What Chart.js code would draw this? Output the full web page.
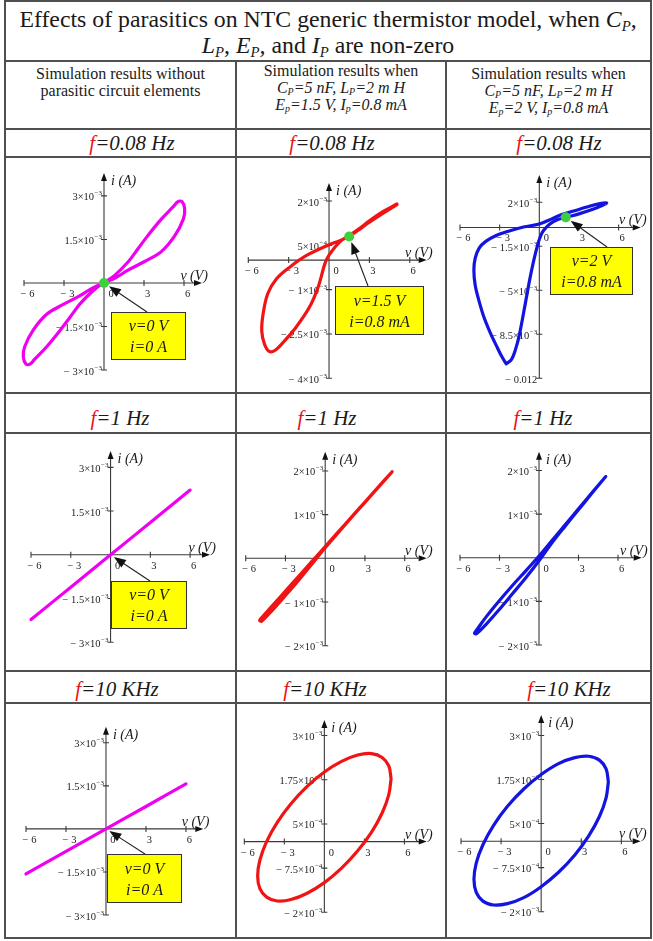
<!DOCTYPE html>
<html>
<head>
<meta charset="utf-8">
<title>NTC thermistor parasitics</title>
<script src="https://cdn.jsdelivr.net/npm/chart.js@4.4.1/dist/chart.umd.min.js"></script>
<style>
  html, body { margin: 0; padding: 0; background: #fff; }
  #page { position: relative; width: 653px; height: 941px; overflow: hidden;
          font-family: "Liberation Serif", "Times New Roman", serif; color: #1a1a1a; }
  .line { position: absolute; background: #505050; }
  .txt { position: absolute; text-align: center; white-space: nowrap; }
  .title { font-size: 23.8px; line-height: 26px; }
  .head { font-size: 16px; line-height: 16.8px; }
  sub { font-size: 0.62em; vertical-align: -0.25em; line-height: 0; }
  .freq { font-size: 21px; line-height: 21px; font-style: italic; width: 140px; }
  .freq span { color: #e8141c; }
  canvas { position: absolute; }
</style>
</head>
<body>
<div id="page">
  <div class="txt title" style="left:5px; top:6px; width:646px;">
    Effects of parasitics on NTC generic thermistor model, when <i>C<sub>P</sub></i>,<br>
    <i>L<sub>P</sub></i>, <i>E<sub>P</sub>,</i> and <i>I<sub>P</sub></i> are non-zero
  </div>
  <div class="txt head" style="left:5px; top:66px; width:231px;">
    Simulation results without<br>parasitic circuit elements
  </div>
  <div class="txt head" style="left:236px; top:63px; width:210px;">
    Simulation results when<br><i>C<sub>P</sub>=5 nF, L<sub>P</sub>=2 m H</i><br><i>E<sub>p</sub>=1.5 V, I<sub>p</sub>=0.8 mA</i>
  </div>
  <div class="txt head" style="left:446px; top:66px; width:205px;">
    Simulation results when<br><i>C<sub>P</sub>=5 nF, L<sub>P</sub>=2 m H</i><br><i>E<sub>p</sub>=2 V, I<sub>p</sub>=0.8 mA</i>
  </div>

  <div class="txt freq" style="left:62px;  top:133px;"><span>f</span>=0.08 Hz</div>
  <div class="txt freq" style="left:262px; top:133px;"><span>f</span>=0.08 Hz</div>
  <div class="txt freq" style="left:489px; top:133px;"><span>f</span>=0.08 Hz</div>
  <div class="txt freq" style="left:50px;  top:408px;"><span>f</span>=1 Hz</div>
  <div class="txt freq" style="left:257px; top:408px;"><span>f</span>=1 Hz</div>
  <div class="txt freq" style="left:473px; top:408px;"><span>f</span>=1 Hz</div>
  <div class="txt freq" style="left:47px;  top:679px;"><span>f</span>=10 KHz</div>
  <div class="txt freq" style="left:255px; top:679px;"><span>f</span>=10 KHz</div>
  <div class="txt freq" style="left:499px; top:679px;"><span>f</span>=10 KHz</div>
</div>

<script>
// ---- data: voltage in V, current in mA ----

// f = 0.08 Hz
const vSlowPlain = [0, 0.8, 1.8, 2.55, 3.3, 4.3, 5.18, 5.55, 5.85, 6.05, 5.95, 5.3, 4.3, 3.05, 1.8, 0.8, 0,
                    -0.8, -1.8, -2.55, -3.3, -4.3, -5.18, -5.55, -5.85, -6.05, -5.95, -5.3, -4.3, -3.05, -1.8, -0.8, 0];
const iSlowPlain = [0, 0.26, 0.72, 1.18, 1.64, 2.2, 2.62, 2.8, 2.8, 2.56, 2.2, 1.62, 1.08, 0.74, 0.44, 0.16, 0,
                    -0.26, -0.72, -1.18, -1.64, -2.2, -2.62, -2.8, -2.8, -2.56, -2.2, -1.62, -1.08, -0.74, -0.44, -0.16, 0];

const vSlowEp15 = [5.05, 4.0, 3.0, 2.2, 1.5, 0.8, -0.2, -1.7, -2.9, -3.9, -4.55, -4.9, -5.0, -4.8, -4.45, -4.0,
                   -3.4, -2.45, -1.45, -0.8, -0.3, 0, 0.8, 1.5, 2.2, 3.0, 4.0, 5.05];
const iSlowEp15 = [1.88, 1.58, 1.28, 1.02, 0.8, 0.66, 0.48, 0.15, -0.23, -0.63, -1.13, -1.82, -2.4, -2.84, -3.09, -3.05,
                   -2.78, -2.27, -1.59, -0.9, -0.11, 0.17, 0.62, 0.83, 1.05, 1.33, 1.64, 1.9];

const vSlowEp2 = [-2.5, -2.1, -1.8, -1.5, -1.05, -0.68, -0.23, 0.2, 0.8, 1.4, 2.0, 3.0, 4.0, 4.7, 5.1, 4.6, 3.6, 2.6,
                  1.6, 0.9, 0, -1.2, -2.4, -3.3, -4.05, -4.55, -4.85, -4.95, -4.85, -4.6, -4.2, -3.7, -3.25, -2.85, -2.5];
const iSlowEp2 = [-10.85, -10.5, -9.7, -8.5, -6.0, -3.9, -1.8, -0.45, 0.27, 0.62, 0.8, 1.08, 1.42, 1.72, 1.95, 1.9, 1.62, 1.3,
                  0.98, 0.66, 0.27, 0.03, -0.32, -0.66, -1.11, -1.64, -2.44, -3.4, -4.6, -5.7, -7.1, -8.4, -9.4, -10.25, -10.85];

// f = 1 Hz
const vMidPlain = [-6, -3, 0, 3, 6];
const iMidPlain = [-2.22, -1.11, 0, 1.11, 2.22];

const vMidEp15 = [5.05, 4, 3, 2, 1, 0, -1, -2, -3, -4, -4.7, -4.95, -4.8, -4, -3, -2, -1, 0, 1, 2, 3, 4, 5.05];
const iMidEp15 = [1.98, 1.63, 1.29, 0.95, 0.61, 0.27, -0.07, -0.41, -0.75, -1.09, -1.33, -1.42, -1.44, -1.19, -0.85,
                  -0.5, -0.13, 0.24, 0.59, 0.94, 1.28, 1.62, 1.98];

const vMidEp2 = [5.07, 4, 3, 2, 1, 0, -1, -2, -3, -4, -4.6, -4.9, -4.75, -4, -3, -2, -1, 0, 1, 2, 3, 4, 5.07];
const iMidEp2 = [1.86, 1.48, 1.12, 0.76, 0.4, 0.04, -0.3, -0.63, -0.98, -1.35, -1.6, -1.73, -1.74, -1.52, -1.18,
                 -0.82, -0.46, -0.07, 0.35, 0.73, 1.1, 1.47, 1.86];

// f = 10 KHz
const vFastPlain = [-6, -3, 0, 3, 6];
const iFastPlain = [-1.57, -0.78, 0, 0.78, 1.57];

const vFastEp15 = [5, 4.83, 4.33, 3.54, 2.5, 1.29, 0, -1.29, -2.5, -3.54, -4.33, -4.83, -5, -4.83, -4.33, -3.54,
                   -2.5, -1.29, 0, 1.29, 2.5, 3.54, 4.33, 4.83, 5];
const iFastEp15 = [1.78, 1.33, 0.81, 0.27, -0.26, -0.75, -1.16, -1.46, -1.64, -1.68, -1.57, -1.33, -0.97, -0.52, 0.0, 0.54,
                   1.07, 1.56, 1.97, 2.27, 2.45, 2.49, 2.38, 2.14, 1.78];

const vFastEp2 = [5.03, 4.86, 4.36, 3.56, 2.52, 1.3, 0, -1.3, -2.52, -3.56, -4.36, -4.86, -5.03, -4.86, -4.36, -3.56,
                  -2.52, -1.3, 0, 1.3, 2.52, 3.56, 4.36, 4.86, 5.03];
const iFastEp2 = [1.68, 1.23, 0.7, 0.15, -0.39, -0.88, -1.29, -1.6, -1.77, -1.81, -1.7, -1.45, -1.08, -0.62, -0.1, 0.45,
                  0.99, 1.48, 1.89, 2.2, 2.37, 2.41, 2.3, 2.05, 1.68];

// operating points [V, A]
const originPt = [0, 0];
const opEp15 = [1.5, 0.8e-3];
const opEp2 = [2, 0.8e-3];

// ---- ticks ----
const xTicks = [-6, -3, 0, 3, 6];
const xTickLabels = ['\u2212 6', '\u2212 3', '0', '3', '6'];

const yTicksPlain = [3e-3, 1.5e-3, -1.5e-3, -3e-3];
const yLabelsPlain = ['3\u00d710^\u22123', '1.5\u00d710^\u22123', '\u2212 1.5\u00d710^\u22123', '\u2212 3\u00d710^\u22123'];
const yTicksSlowEp15 = [2e-3, 5e-4, -1e-3, -2.5e-3, -4e-3];
const yLabelsSlowEp15 = ['2\u00d710^\u22123', '5\u00d710^\u22124', '\u2212 1\u00d710^\u22123', '\u2212 2.5\u00d710^\u22123', '\u2212 4\u00d710^\u22123'];
const yTicksSlowEp2 = [2e-3, -1.5e-3, -5e-3, -8.5e-3, -0.012];
const yLabelsSlowEp2 = ['2\u00d710^\u22123', '\u2212 1.5\u00d710^\u22123', '\u2212 5\u00d710^\u22123', '\u2212 8.5\u00d710^\u22123', '\u2212 0.012'];
const yTicksMid = [2e-3, 1e-3, -1e-3, -2e-3];
const yLabelsMid = ['2\u00d710^\u22123', '1\u00d710^\u22123', '\u2212 1\u00d710^\u22123', '\u2212 2\u00d710^\u22123'];
const yTicksFast = [3e-3, 1.75e-3, 5e-4, -7.5e-4, -2e-3];
const yLabelsFast = ['3\u00d710^\u22123', '1.75\u00d710^\u22123', '5\u00d710^\u22124', '\u2212 7.5\u00d710^\u22124', '\u2212 2\u00d710^\u22123'];

// ---- styles ----
const MAGENTA = '#f000f0';
const RED = '#f01414';
const BLUE = '#1414e0';
const DOT_GREEN = '#3ecf3e';
const AXIS_COLOR = '#3a3a3a';
const SERIF = '"Liberation Serif", "Times New Roman", serif';

// table rules: [x, y, w, h]
const rules = [
  [5, 0, 646, 2], [5, 60, 646, 2], [5, 128, 646, 2], [5, 156, 646, 2], [5, 392, 646, 2],
  [5, 432, 646, 2], [5, 670, 646, 2], [5, 702, 646, 2], [5, 937, 646, 2],
  [4, 0, 2, 939], [650, 0, 2, 939], [235, 60, 2, 879], [445, 60, 2, 879]
];

// cell = canvas rect on the page, area = plot box on the page [left, top, right, bottom]
const panels = [
  { cell: [6, 158, 229, 234], area: [24, 173, 202, 370], xMax: 7.35, yMin: -3e-3, yMax: 3.79e-3,
    v: vSlowPlain, i: iSlowPlain, color: MAGENTA, yTicks: yTicksPlain, yLabels: yLabelsPlain, dot: originPt,
    note: { box: [111, 312, 75, 48], from: [147, 312], at: originPt, gap: 6 } },
  { cell: [237, 158, 208, 234], area: [248.3, 183, 426.7, 378.3], xMax: 7.26, yMin: -4e-3, yMax: 2.61e-3,
    v: vSlowEp15, i: iSlowEp15, color: RED, yTicks: yTicksSlowEp15, yLabels: yLabelsSlowEp15, dot: opEp15,
    note: { box: [335, 286, 89, 49], from: [368, 286], at: opEp15, gap: 6 } },
  { cell: [447, 158, 203, 234], area: [460, 175, 640.7, 378.3], xMax: 7.67, yMin: -12e-3, yMax: 4.17e-3,
    v: vSlowEp2, i: iSlowEp2, color: BLUE, yTicks: yTicksSlowEp2, yLabels: yLabelsSlowEp2, dot: opEp2,
    note: { box: [550, 247, 83, 48], from: [607, 247], at: opEp2, gap: 6 } },
  { cell: [6, 434, 229, 236], area: [31, 451, 210, 642.3], xMax: 7.5, yMin: -3e-3, yMax: 3.56e-3,
    v: vMidPlain, i: iMidPlain, color: MAGENTA, yTicks: yTicksPlain, yLabels: yLabelsPlain, dot: null,
    note: { box: [111, 581, 76, 48], from: [150, 581], at: originPt, gap: 4 } },
  { cell: [237, 434, 208, 236], area: [245.7, 451.7, 426.7, 645.7], xMax: 7.66, yMin: -2e-3, yMax: 2.44e-3,
    v: vMidEp15, i: iMidEp15, color: RED, yTicks: yTicksMid, yLabels: yLabelsMid, dot: null, note: null },
  { cell: [447, 434, 203, 236], area: [460, 451.7, 641.7, 645], xMax: 7.8, yMin: -2e-3, yMax: 2.43e-3,
    v: vMidEp2, i: iMidEp2, color: BLUE, yTicks: yTicksMid, yLabels: yLabelsMid, dot: null, note: null },
  { cell: [6, 704, 229, 233], area: [26, 726.7, 203.3, 915], xMax: 7.3, yMin: -3e-3, yMax: 3.56e-3,
    v: vFastPlain, i: iFastPlain, color: MAGENTA, yTicks: yTicksPlain, yLabels: yLabelsPlain, dot: null,
    note: { box: [107, 854, 75, 49], from: [145, 854], at: originPt, gap: 4 } },
  { cell: [237, 704, 208, 233], area: [244.3, 720, 426.7, 912.3], xMax: 7.67, yMin: -2e-3, yMax: 3.44e-3,
    v: vFastEp15, i: iFastEp15, color: RED, yTicks: yTicksFast, yLabels: yLabelsFast, dot: null, note: null },
  { cell: [447, 704, 203, 233], area: [461, 715, 640.7, 911.7], xMax: 7.45, yMin: -2e-3, yMax: 3.58e-3,
    v: vFastEp2, i: iFastEp2, color: BLUE, yTicks: yTicksFast, yLabels: yLabelsFast, dot: null, note: null }
];

const page = document.getElementById('page');

rules.forEach(([x, y, w, h]) => {
  const d = document.createElement('div');
  d.className = 'line';
  d.style.cssText = `left:${x}px;top:${y}px;width:${w}px;height:${h}px;`;
  page.appendChild(d);
});

function fillArrow(ctx, x, y, ang, len, half) {
  ctx.save();
  ctx.translate(x, y);
  ctx.rotate(ang);
  ctx.beginPath();
  ctx.moveTo(0, 0);
  ctx.lineTo(-len, -half);
  ctx.lineTo(-len, half);
  ctx.closePath();
  ctx.fill();
  ctx.restore();
}

// "1.5×10^−3" -> base text plus raised exponent, right aligned
function drawPowerLabel(ctx, label, right, yTick) {
  const [base, sup] = label.split('^');
  ctx.font = '10.5px ' + SERIF;
  const wb = ctx.measureText(base).width;
  ctx.font = '7px ' + SERIF;
  const ws = sup ? ctx.measureText(sup).width + 0.5 : 0;
  const x = right - wb - ws;
  ctx.textAlign = 'left';
  ctx.textBaseline = 'alphabetic';
  ctx.font = '10.5px ' + SERIF;
  ctx.fillText(base, x, yTick + 4.5);
  if (sup) {
    ctx.font = '7px ' + SERIF;
    ctx.fillText(sup, x + wb + 0.5, yTick - 0.5);
  }
}

function noteLines(pt) {
  const vTxt = 'v=' + pt[0] + ' V';
  const iTxt = pt[1] === 0 ? 'i=0 A' : 'i=' + (+(pt[1] * 1e3).toFixed(3)) + ' mA';
  return [vTxt, iTxt];
}

function makeAxesPlugin(p) {
  return {
    id: 'crossAxes',
    beforeDatasetsDraw(chart) {
      const ctx = chart.ctx;
      const xs = chart.scales.x, ys = chart.scales.y;
      const x0 = xs.getPixelForValue(0), y0 = ys.getPixelForValue(0);
      const left = xs.getPixelForValue(xs.min), right = xs.getPixelForValue(xs.max);
      const top = ys.getPixelForValue(ys.max), bottom = ys.getPixelForValue(ys.min);

      ctx.save();
      ctx.strokeStyle = AXIS_COLOR;
      ctx.fillStyle = AXIS_COLOR;
      ctx.lineWidth = 1.1;
      ctx.beginPath();
      ctx.moveTo(left, y0); ctx.lineTo(right - 4, y0);
      ctx.moveTo(x0, bottom); ctx.lineTo(x0, top + 4);
      xTicks.forEach(v => {
        if (v === 0) return;
        const px = xs.getPixelForValue(v);
        ctx.moveTo(px, y0 - 3); ctx.lineTo(px, y0 + 3);
      });
      p.yTicks.forEach(val => {
        const py = ys.getPixelForValue(val);
        ctx.moveTo(x0 - 3, py); ctx.lineTo(x0 + 3, py);
      });
      ctx.stroke();
      ctx.fillStyle = '#111';
      fillArrow(ctx, right, y0, 0, 8, 3);
      fillArrow(ctx, x0, top, -Math.PI / 2, 8, 3);

      // tick labels
      ctx.fillStyle = '#222';
      ctx.font = '10.5px ' + SERIF;
      ctx.textAlign = 'center';
      ctx.textBaseline = 'alphabetic';
      xTicks.forEach((v, k) => {
        const px = xs.getPixelForValue(v) + (v === 0 ? 7 : 3.5);
        ctx.fillText(xTickLabels[k], px, y0 + 14);
      });
      p.yTicks.forEach((val, k) => drawPowerLabel(ctx, p.yLabels[k], x0 - 2, ys.getPixelForValue(val)));

      // axis names
      ctx.fillStyle = '#1a1a1a';
      ctx.font = 'italic 14px ' + SERIF;
      ctx.textAlign = 'left';
      ctx.fillText('i (A)', x0 + 7, top + 12);
      ctx.textAlign = 'right';
      ctx.fillText('v (V)', right + 6, y0 - 3);
      ctx.restore();
    },
    afterDatasetsDraw(chart) {
      const n = p.note;
      if (!n) return;
      const ctx = chart.ctx;
      const ox = p.cell[0], oy = p.cell[1];
      const tx = chart.scales.x.getPixelForValue(n.at[0]);
      const ty = chart.scales.y.getPixelForValue(n.at[1]);
      const sx = n.from[0] - ox, sy = n.from[1] - oy;
      const dx = tx - sx, dy = ty - sy, d = Math.hypot(dx, dy);
      const ex = tx - dx / d * n.gap, ey = ty - dy / d * n.gap;

      ctx.save();
      ctx.strokeStyle = '#222';
      ctx.lineWidth = 1.1;
      ctx.beginPath();
      ctx.moveTo(sx, sy);
      ctx.lineTo(ex - dx / d * 8, ey - dy / d * 8);
      ctx.stroke();
      ctx.fillStyle = '#111';
      fillArrow(ctx, ex, ey, Math.atan2(dy, dx), 12, 4.5);

      const [bx, by, bw, bh] = n.box;
      ctx.fillStyle = '#ffff00';
      ctx.fillRect(bx - ox, by - oy, bw, bh);
      ctx.strokeStyle = '#333';
      ctx.lineWidth = 1;
      ctx.strokeRect(bx - ox + 0.5, by - oy + 0.5, bw - 1, bh - 1);

      const lines = noteLines(n.at);
      ctx.fillStyle = '#1a1a1a';
      ctx.font = 'italic 16px ' + SERIF;
      ctx.textAlign = 'center';
      ctx.textBaseline = 'alphabetic';
      ctx.fillText(lines[0], bx - ox + bw / 2, by - oy + bh * 0.4);
      ctx.fillText(lines[1], bx - ox + bw / 2, by - oy + bh * 0.83);
      ctx.restore();
    }
  };
}

panels.forEach(p => {
  const [cx, cy, cw, ch] = p.cell;
  const [al, at, ar, ab] = p.area;
  const cv = document.createElement('canvas');
  cv.width = cw;
  cv.height = ch;
  cv.style.left = cx + 'px';
  cv.style.top = cy + 'px';
  page.appendChild(cv);

  const curve = p.v.map((v, k) => ({ x: v, y: p.i[k] / 1000 }));
  const dots = p.dot ? [{ x: p.dot[0], y: p.dot[1] }] : [];

  new Chart(cv, {
    type: 'scatter',
    data: {
      datasets: [
        { data: dots, pointRadius: 5, pointBackgroundColor: DOT_GREEN, pointBorderWidth: 0, showLine: false, clip: false },
        { data: curve, showLine: true, borderColor: p.color, borderWidth: 3.2, pointRadius: 0,
          tension: 0.35, fill: false, clip: false, borderCapStyle: 'round', borderJoinStyle: 'round' }
      ]
    },
    options: {
      responsive: false,
      animation: false,
      devicePixelRatio: 1,
      events: [],
      layout: { padding: { left: al - cx, top: at - cy, right: cx + cw - ar, bottom: cy + ch - ab } },
      plugins: { legend: { display: false }, tooltip: { enabled: false } },
      scales: {
        x: { type: 'linear', display: false, min: -6, max: p.xMax },
        y: { type: 'linear', display: false, min: p.yMin, max: p.yMax }
      }
    },
    plugins: [makeAxesPlugin(p)]
  });
});
</script>
</body>
</html>
